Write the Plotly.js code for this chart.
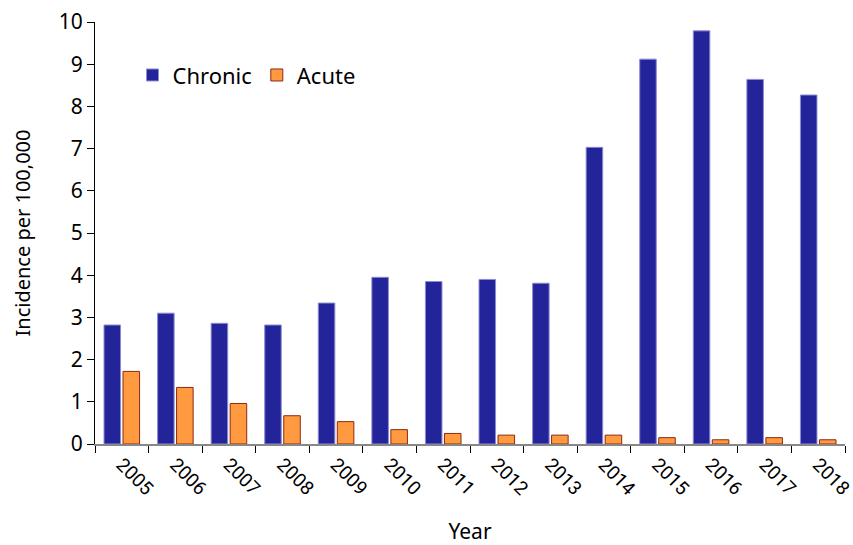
<!DOCTYPE html>
<html>
<head>
<meta charset="utf-8">
<script src="https://cdn.plot.ly/plotly-3.0.1.min.js"></script>
<style>html,body{margin:0;padding:0;background:#fff;}</style>
</head>
<body>
<div id="chart" style="width:853px;height:545px;"></div>
<script>
const years = ["2005","2006","2007","2008","2009","2010","2011","2012","2013","2014","2015","2016","2017","2018"];
const chronic = [2.82,3.10,2.86,2.82,3.34,3.95,3.85,3.90,3.81,7.03,9.12,9.79,8.64,8.27];
const acute = [1.72,1.34,0.96,0.67,0.53,0.34,0.25,0.21,0.21,0.21,0.15,0.10,0.15,0.10];

const font = "Noto Sans, Open Sans, sans-serif";
const data = [
  {type:"bar", name:"Chronic", x:years, y:chronic,
   marker:{color:"#24249a", line:{color:"#8c8cd0", width:1}}},
  {type:"bar", name:"Acute", x:years, y:acute,
   marker:{color:"#ff9a40", line:{color:"#8b2a12", width:1}}}
];
const layout = {
  width:853, height:545,
  margin:{l:95, r:8, t:22, b:101},
  paper_bgcolor:"#fff", plot_bgcolor:"#fff",
  barmode:"group", bargap:0.29, bargroupgap:0.13,
  font:{family:font, size:20, color:"#000"},
  showlegend:true,
  legend:{orientation:"h", x:0.05, y:0.874, xanchor:"left", yanchor:"middle",
          font:{size:22}, bgcolor:"rgba(0,0,0,0)", itemwidth:30, traceorder:"normal"},
  xaxis:{type:"category", showline:true, linecolor:"#888", linewidth:2,
         ticks:"outside", tickcolor:"#000", ticklen:7, tickson:"boundaries",
         tickangle:45, tickfont:{size:19, family:"Roboto, Noto Sans, sans-serif"},
         showgrid:false, zeroline:false,
         title:{text:"Year", font:{size:21}, standoff:26}},
  yaxis:{range:[0,10], dtick:1, showline:true, linecolor:"#000", linewidth:1,
         ticks:"outside", tickcolor:"#000", ticklen:7, showgrid:false, zeroline:false,
         tickfont:{size:21},
         title:{text:"Incidence per 100,000", font:{size:20}, standoff:22}}
};
Plotly.newPlot("chart", data, layout, {displayModeBar:false});
</script>
</body>
</html>
